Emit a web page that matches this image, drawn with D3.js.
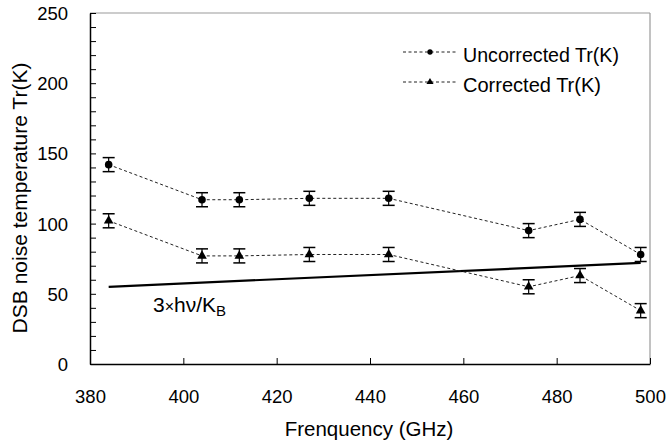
<!DOCTYPE html>
<html><head><meta charset="utf-8">
<script src="https://cdn.jsdelivr.net/npm/d3@7"></script>
<style>body{margin:0;background:#fff}svg{display:block;font-family:"Liberation Sans",Arial,sans-serif}</style>
</head><body>
<script>
const freqs = [384, 404, 412, 427, 444, 474, 485, 498];
const uncorrected = [142, 117, 117, 118, 118, 95, 103, 78];
const corrected = [102, 77, 77, 78, 78, 55, 63, 38];
const errUnc = [5, 5, 5, 5, 5, 5, 5, 5];
const errCor = [5, 5, 5, 5, 5, 5, 5, 5];
const quantumFreq = [384, 498];
const quantumVal = [55, 72];
const xTicks = [380, 400, 420, 440, 460, 480, 500];
const yTicks = [0, 50, 100, 150, 200, 250];
const yMinor = d3.range(0, 251, 10);

const W = 668, H = 446;
const m = {l: 90, r: 650, t: 13, b: 364};
const svg = d3.select("body").append("svg").attr("width", W).attr("height", H);
const x = d3.scaleLinear().domain([380, 500]).range([m.l, m.r]);
const y = d3.scaleLinear().domain([0, 250]).range([m.b, m.t]);

// frame top/right
svg.append("line").attr("x1", m.l).attr("x2", m.r).attr("y1", m.t).attr("y2", m.t).attr("stroke", "#999").attr("stroke-width", 1.2);
svg.append("line").attr("x1", m.r).attr("x2", m.r).attr("y1", m.t).attr("y2", m.b).attr("stroke", "#999").attr("stroke-width", 1.2);

// axes
const xAxis = svg.append("g").attr("transform", `translate(0,${m.b})`)
  .call(d3.axisBottom(x).tickValues(xTicks).tickSizeInner(-6).tickSizeOuter(0).tickPadding(26));
const yAxis = svg.append("g").attr("transform", `translate(${m.l},0)`)
  .call(d3.axisLeft(y).tickValues(yMinor).tickSizeInner(-6).tickSizeOuter(0)
    .tickFormat(d => yTicks.includes(d) ? d : "").tickPadding(22));
[xAxis, yAxis].forEach(g => {
  g.select(".domain").attr("stroke", "#000").attr("stroke-width", 1.5);
  g.selectAll(".tick line").attr("stroke", "#000").attr("stroke-width", 1);
  g.selectAll(".tick text").attr("font-size", 18.5).attr("fill", "#000").attr("font-family", "Liberation Sans, Arial, sans-serif");
});
yAxis.selectAll(".tick text").attr("dy", "0.35em");

// axis titles
svg.append("text").attr("x", (m.l + m.r) / 2 - 1).attr("y", 436).attr("text-anchor", "middle")
  .attr("font-size", 20.5).text("Frenquency (GHz)");
svg.append("text").attr("transform", `translate(27,${198}) rotate(-90)`).attr("text-anchor", "middle")
  .attr("font-size", 21).text("DSB noise temperature Tr(K)");

// quantum limit line
const qData = quantumFreq.map((f, i) => [f, quantumVal[i]]);
svg.append("path").attr("d", d3.line().x(d => x(d[0])).y(d => y(d[1]))(qData))
  .attr("fill", "none").attr("stroke", "#000").attr("stroke-width", 2.2);
const ql = svg.append("text").attr("x", 153).attr("y", 312).attr("font-size", 21);
ql.append("tspan").text("3");
ql.append("tspan").attr("font-size", 16).text("×");
ql.append("tspan").text("hν/K");
ql.append("tspan").attr("font-size", 15).attr("dy", 4).text("B");

function series(vals, errs, shape) {
  const pts = freqs.map((f, i) => [f, vals[i], errs[i]]);
  svg.append("path").attr("d", d3.line().x(d => x(d[0])).y(d => y(d[1]))(pts))
    .attr("fill", "none").attr("stroke", "#222").attr("stroke-width", 1).attr("stroke-dasharray", "3,2.5");
  const g = svg.append("g");
  pts.forEach(d => {
    const cx = x(d[0]), y1 = y(d[1] + d[2]), y2 = y(d[1] - d[2]);
    g.append("line").attr("x1", cx).attr("x2", cx).attr("y1", y1).attr("y2", y2).attr("stroke", "#000").attr("stroke-width", 1.2);
    g.append("line").attr("x1", cx - 6).attr("x2", cx + 6).attr("y1", y1).attr("y2", y1).attr("stroke", "#000").attr("stroke-width", 1.5);
    g.append("line").attr("x1", cx - 6).attr("x2", cx + 6).attr("y1", y2).attr("y2", y2).attr("stroke", "#000").attr("stroke-width", 1.5);
    g.append("path").attr("transform", `translate(${cx},${y(d[1])})`)
      .attr("d", d3.symbol().type(shape).size(shape === d3.symbolCircle ? 45 : 40)()).attr("fill", "#000");
  });
}
series(uncorrected, errUnc, d3.symbolCircle);
series(corrected, errCor, d3.symbolTriangle);

// legend
const legend = [["Uncorrected Tr(K)", d3.symbolCircle, 52, 156], ["Corrected Tr(K)", d3.symbolTriangle, 82, 138]];
legend.forEach(([label, shape, ly, tl]) => {
  svg.append("line").attr("x1", 403).attr("x2", 457).attr("y1", ly).attr("y2", ly)
    .attr("stroke", "#222").attr("stroke-width", 1).attr("stroke-dasharray", "3,2.5");
  svg.append("path").attr("transform", `translate(430,${ly})`).attr("d", d3.symbol().type(shape).size(22)()).attr("fill", "#000");
  svg.append("text").attr("x", 463).attr("y", ly + 10).attr("font-size", 21)
    .attr("textLength", tl).attr("lengthAdjust", "spacingAndGlyphs").text(label);
});
</script>
</body></html>
